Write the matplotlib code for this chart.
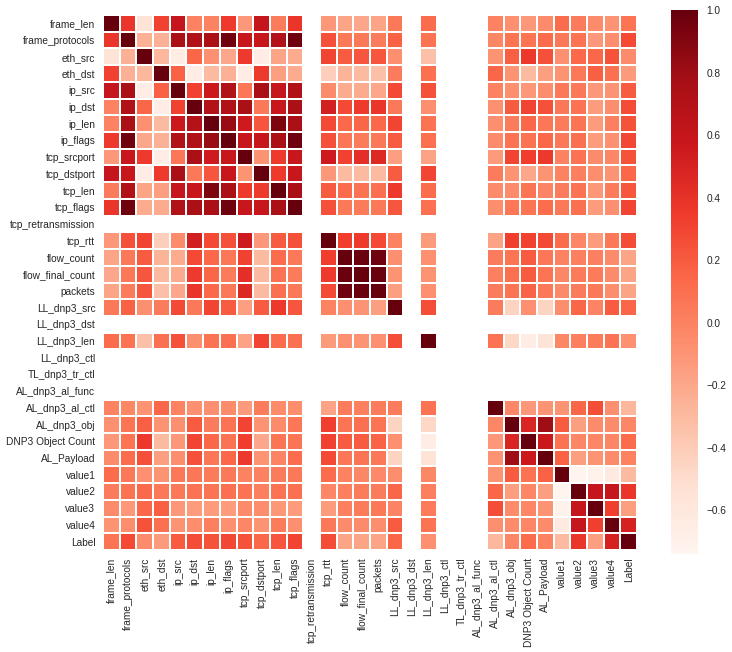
import matplotlib
matplotlib.use('Agg')
import matplotlib.pyplot as plt
import numpy as np

plt.rcParams['font.family'] = ['Liberation Sans', 'DejaVu Sans']
plt.rcParams['text.color'] = '0.15'
plt.rcParams['xtick.color'] = '0.15'
plt.rcParams['ytick.color'] = '0.15'

labels = ['frame_len', 'frame_protocols', 'eth_src', 'eth_dst', 'ip_src', 'ip_dst',
          'ip_len', 'ip_flags', 'tcp_srcport', 'tcp_dstport', 'tcp_len', 'tcp_flags',
          'tcp_retransmission', 'tcp_rtt', 'flow_count', 'flow_final_count', 'packets',
          'LL_dnp3_src', 'LL_dnp3_dst', 'LL_dnp3_len', 'LL_dnp3_ctl', 'TL_dnp3_tr_ctl',
          'AL_dnp3_al_func', 'AL_dnp3_al_ctl', 'AL_dnp3_obj', 'DNP3 Object Count',
          'AL_Payload', 'value1', 'value2', 'value3', 'value4', 'Label']

# these columns are constant in the data, so their correlation is empty
empty = ['tcp_retransmission', 'LL_dnp3_dst', 'LL_dnp3_ctl', 'TL_dnp3_tr_ctl', 'AL_dnp3_al_func']

# upper triangle of the non-empty columns
upper = [
    [1, .38, -.55, .32, .6, .0, .0, .35, -.12, .6, .03, .38, -.12, -.18, -.2, -.18, .05, .12, 0, -.08, -.12, -.05, .12, .03, -.05, -.1, .07],
    [1, -.25, -.25, .75, .72, .75, .97, .58, .58, .72, .97, .25, .05, .05, .03, .17, .08, -.03, .07, .07, .12, .05, .08, -.12, -.06, .28],
    [1, -.28, -.65, .15, -.08, -.2, .35, -.65, -.18, -.22, .3, .2, .22, .22, -.07, -.33, -.1, .18, .36, .25, -.08, .13, .14, .24, -.05],
    [1, .17, -.65, -.3, -.25, -.65, .35, -.15, -.22, -.42, -.27, -.3, -.33, .03, .1, .15, -.1, -.3, -.15, -.1, .05, .18, .1, -.13],
    [1, .32, .57, .72, .06, .75, .6, .72, -.05, -.22, -.22, -.2, .28, .25, 0, -.07, -.12, -.06, .05, .05, -.12, -.1, .2],
    [1, .7, .72, .75, .05, .58, .75, .52, .28, .35, .38, .05, -.07, -.08, .2, .3, .25, .06, .08, -.14, -.06, .27],
    [1, .82, .55, .22, .92, .75, .28, .13, .15, .13, .3, .08, -.07, .03, .14, .06, .04, .07, -.14, .02, .24],
    [1, .58, .58, .75, .97, .25, .06, .04, .05, .2, .1, -.05, .08, .08, .14, .05, .1, -.14, -.08, .29],
    [1, -.1, .35, .58, .55, .32, .42, .46, -.15, -.17, -.13, .3, .34, .36, 0, .08, -.05, -.02, .24],
    [1, .35, .58, -.12, -.3, -.3, -.3, .2, .3, .03, -.1, -.2, -.1, 0, .02, -.06, -.09, .14],
    [1, .75, .2, .12, .08, .1, .36, .12, -.05, -.05, .07, -.01, .03, .08, -.11, .04, .22],
    [1, .25, .05, .04, .05, .22, .1, -.06, .06, .07, .11, .05, .1, -.14, -.07, .3],
    [1, .34, .35, .28, 0, -.13, -.17, .33, .32, .28, .12, -.02, -.14, .05, .27],
    [1, .98, .97, -.07, -.08, .03, .07, .2, .06, 0, .02, .02, -.05, -.18],
    [1, .98, -.1, -.1, .02, .1, .2, .07, -.03, .04, .04, -.05, -.18],
    [1, -.15, -.08, .03, .07, .16, .05, -.04, .03, .05, -.06, -.18],
    [1, .26, .03, -.45, -.08, -.45, -.06, .15, -.01, .2, .15],
    [1, .08, -.47, -.65, -.55, -.03, .02, .04, .08, -.08],
    [1, -.03, -.12, -.1, -.1, .15, .26, -.07, -.28],
    [1, .48, .8, .2, -.15, -.05, -.05, -.03],
    [1, .57, .08, -.02, -.02, -.02, .12],
    [1, .17, -.15, -.1, -.05, 0],
    [1, -.72, -.7, -.62, -.3],
    [1, .6, .6, .38],
    [1, .33, -.15],
    [1, .5],
    [1],
]


def build_matrix():
    keep = [i for i, name in enumerate(labels) if name not in empty]
    corr = np.full((len(labels), len(labels)), np.nan)
    for r, row in enumerate(upper):
        for c, value in enumerate(row):
            i, j = keep[r], keep[r + c]
            corr[i, j] = value
            corr[j, i] = value
    return corr


def main():
    corr = build_matrix()
    w, h = 732, 652
    fig = plt.figure(figsize=(w / 100, h / 100), dpi=100)
    ax = fig.add_axes([103 / w, 1 - 550 / h, 534 / w, 535 / h])
    cax = fig.add_axes([671 / w, 1 - 554 / h, 27 / w, 544 / h])

    mesh = ax.pcolormesh(np.ma.masked_invalid(corr), cmap='Reds', vmin=-0.74, vmax=1,
                         edgecolors='white', linewidth=1.1)
    ax.invert_yaxis()
    ticks = np.arange(len(labels)) + 0.5
    ax.set_xticks(ticks)
    ax.set_xticklabels(labels, rotation=90, fontsize=7.3)
    ax.set_yticks(ticks)
    ax.set_yticklabels(labels, rotation=0, fontsize=7.3)
    ax.tick_params(length=0, pad=5.5)
    for spine in ax.spines.values():
        spine.set_visible(False)

    cbar = fig.colorbar(mesh, cax=cax)
    cbar.set_ticks([-0.6, -0.4, -0.2, 0.0, 0.2, 0.4, 0.6, 0.8, 1.0])
    cbar.ax.tick_params(length=0, labelsize=7.3, pad=6)
    cbar.outline.set_visible(False)

    fig.savefig('out.png', dpi=100)


if __name__ == '__main__':
    main()
